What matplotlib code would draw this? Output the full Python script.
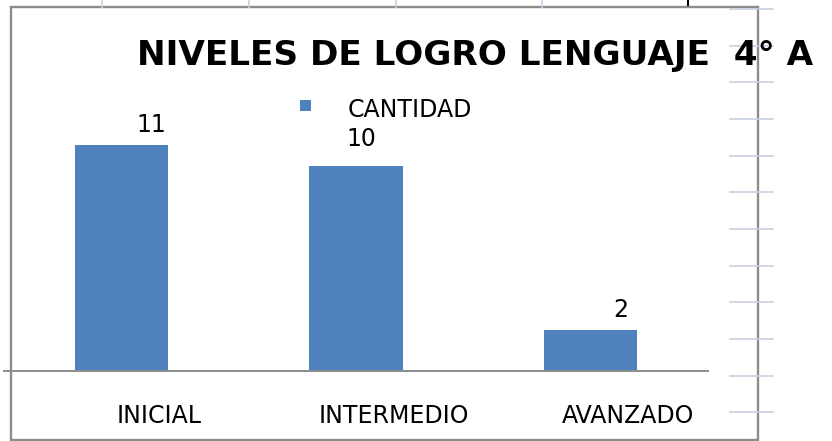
import matplotlib
matplotlib.use('Agg')
import matplotlib.pyplot as plt
from matplotlib.patches import Rectangle
from matplotlib.lines import Line2D
from matplotlib.transforms import ScaledTranslation

# data
categories = ['INICIAL', 'INTERMEDIO', 'AVANZADO']
cantidad = [11, 10, 2]
series_name = 'CANTIDAD'
title = 'NIVELES DE LOGRO LENGUAJE  4° A'

W, H = 832, 441
DPI = 100
BAR_COLOR = '#4f81bd'
GRID_COLOR = '#c9cfe0'


def fx(px):
    return px / W


def fy(py):
    # pixel row from top -> figure fraction
    return (H - py) / H


fig = plt.figure(figsize=(W / DPI, H / DPI), dpi=DPI)
plt.rcParams['font.family'] = 'DejaVu Sans'

# spreadsheet grid behind the chart object
for x in [102, 249, 396, 542]:
    fig.add_artist(Line2D([fx(x), fx(x)], [fy(0), fy(7)], color=GRID_COLOR, lw=1.2))
fig.add_artist(Line2D([fx(688), fx(688)], [fy(0), fy(5)], color='black', lw=1.5))

# chart frame
fig.add_artist(Rectangle((fx(11), fy(440)), fx(758) - fx(11), fy(6.5) - fy(440),
                         facecolor='white', edgecolor='#8c8c8c', lw=1.7, zorder=0))

# plot area: baseline at row 371, 20.55 px per unit
unit = 20.55
ymax = 12
ax = fig.add_axes([fx(4.25), fy(371), fx(707.75) - fx(4.25), ymax * unit / H])
ax.set_facecolor('none')
x = range(len(categories))
bars = ax.bar(x, cantidad, width=0.4, color=BAR_COLOR, zorder=2)
ax.set_xlim(-0.5, len(categories) - 0.5)
ax.set_ylim(0, ymax)

for s in ['top', 'right', 'left']:
    ax.spines[s].set_visible(False)
ax.spines['bottom'].set_color('#8c8c8c')
ax.spines['bottom'].set_linewidth(1.4)
ax.set_yticks([])
ax.set_xticks(list(x))
ax.set_xticklabels(categories, fontsize=17)
ax.tick_params(axis='x', length=0, pad=24)
shift = ScaledTranslation(38 / DPI, 0, fig.dpi_scale_trans)
for lbl in ax.get_xticklabels():
    lbl.set_transform(lbl.get_transform() + shift)

# data labels (Excel placed them off-centre)
label_offsets = [(30, 20), (5, 26), (30, 20)]
for rect, v, (dx, dy) in zip(bars, cantidad, label_offsets):
    ax.annotate(str(v), (rect.get_x() + rect.get_width() / 2, v),
                xytext=(dx, dy), textcoords='offset pixels',
                ha='center', va='center', fontsize=17)

# legend
fig.add_artist(Rectangle((fx(300), fy(111)), fx(311) - fx(300), fy(100) - fy(111),
                         facecolor=BAR_COLOR, edgecolor='none'))
fig.text(fx(348), fy(110), series_name, ha='left', va='center', fontsize=17)

# title
fig.text(fx(137), fy(65), title, ha='left', va='baseline',
         fontsize=24.7, fontweight='bold')

# row gridlines on the right edge
for y in [9, 46, 82, 119, 156, 192, 229, 266, 302, 339, 376, 412]:
    fig.add_artist(Line2D([fx(730), fx(773)], [fy(y), fy(y)], color=GRID_COLOR, lw=1.2))

fig.savefig('out.png', dpi=DPI)
